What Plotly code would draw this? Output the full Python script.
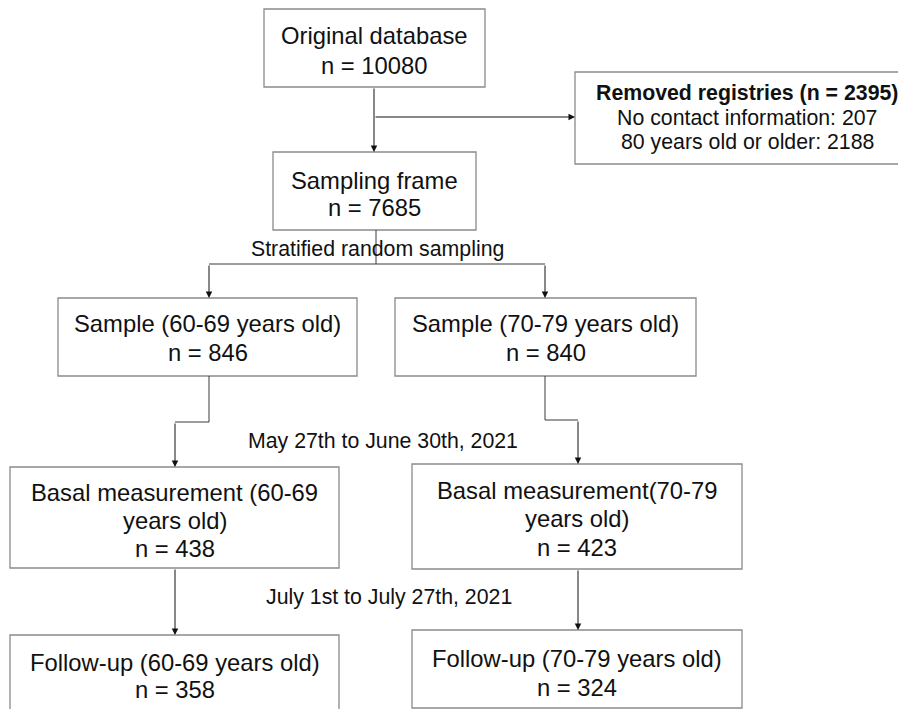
import plotly.graph_objects as go

# ---------------- data ----------------
node_titles = [
    ["Original database"],
    ["Sampling frame"],
    ["Sample (60-69 years old)"],
    ["Sample (70-79 years old)"],
    ["Basal measurement (60-69", "years old)"],
    ["Basal measurement(70-79", "years old)"],
    ["Follow-up (60-69 years old)"],
    ["Follow-up (70-79 years old)"],
]
node_counts = [10080, 7685, 846, 840, 438, 423, 358, 324]

removed_title = "Removed registries"
removed_total = 2395
removed_reasons = ["No contact information", "80 years old or older"]
removed_counts = [207, 2188]

phase_labels = [
    "Stratified random sampling",
    "May 27th to June 30th, 2021",
    "July 1st to July 27th, 2021",
]

# ---------------- layout geometry (page pixels, y downward) ----------------
W, H = 906, 709
PAGE_MARGIN = 8  # default body margin of the html page
# x0, x1, y0, y1, first-line y, line spacing
node_boxes = [
    (264, 485, 9, 87, 35, 30),
    (273, 476, 152, 230, 180, 27),
    (58, 357, 298, 376, 323, 29),
    (395, 696, 298, 376, 323, 29),
    (10, 339, 467, 568, 492, 28),
    (412, 742, 464, 569, 490, 28.5),
    (10, 339, 635, 712, 662, 27),
    (412, 742, 630, 708, 658, 29),
]
removed_box = (575, 919, 72, 164, 93, 24.5)
phase_pos = [(377, 249), (383, 441), (389, 597)]

BOX_FONT = 23.8
REM_FONT = 21.3
LAB_FONT = 21.3
FONT_FAMILY = "Liberation Sans, Arial, sans-serif"
TEXT_COLOR = "#111111"
BORDER = "#8a8a8a"
CONN = "#3a3a3a"

fig = go.Figure()
shapes = []
annotations = []

def add_box(box, lines, size):
    x0, x1, y0, y1, ly, sp = box
    shapes.append(dict(type="rect", xref="x", yref="y", x0=x0, x1=x1, y0=y0, y1=y1,
                       line=dict(color=BORDER, width=1.3), fillcolor="white", layer="below"))
    cx = (x0 + x1) / 2
    for i, t in enumerate(lines):
        annotations.append(dict(x=cx, y=ly + i * sp, xref="x", yref="y", text=t,
                                showarrow=False, xanchor="center", yanchor="middle",
                                font=dict(family=FONT_FAMILY, size=size, color=TEXT_COLOR)))

for box, title, n in zip(node_boxes, node_titles, node_counts):
    add_box(box, title + [f"n = {n}"], BOX_FONT)

rem_lines = [f"<b>{removed_title} (n = {removed_total})</b>"] + \
            [f"{r}: {c}" for r, c in zip(removed_reasons, removed_counts)]
add_box(removed_box, rem_lines, REM_FONT)

for (x, y), t in zip(phase_pos, phase_labels):
    annotations.append(dict(x=x, y=y, xref="x", yref="y", text=t, showarrow=False,
                            xanchor="center", yanchor="middle",
                            font=dict(family=FONT_FAMILY, size=LAB_FONT, color=TEXT_COLOR)))

def path(points):
    d = "M " + " L ".join(f"{px},{py}" for px, py in points)
    shapes.append(dict(type="path", xref="x", yref="y", path=d,
                       line=dict(color=CONN, width=1)))

def arrow(tail, head):
    annotations.append(dict(x=head[0], y=head[1], ax=tail[0], ay=tail[1],
                            xref="x", yref="y", axref="x", ayref="y", text="",
                            showarrow=True, arrowhead=2, arrowsize=1.3, arrowwidth=1,
                            arrowcolor="#111111", standoff=0))

B = node_boxes
# original -> sampling frame, and exclusion branch
ox = 374
arrow((ox, B[0][3]), (ox, B[1][2]))
arrow((ox, 117), (removed_box[0], 117))
# sampling frame -> two samples
sx = 376
path([(sx, B[1][3]), (sx, 264)])
path([(209, 264), (545, 264)])
arrow((209, 264), (209, B[2][2]))
arrow((545, 264), (545, B[3][2]))
# samples -> basal
path([(209, B[2][3]), (209, 422), (175, 422)])
arrow((175, 422), (175, B[4][2]))
path([(545, B[3][3]), (545, 420), (578, 420)])
arrow((578, 420), (578, B[5][2]))
# basal -> follow-up
arrow((175, B[4][3]), (175, B[6][2]))
arrow((578, B[5][3]), (578, B[7][2]))

fig.update_layout(
    width=W - PAGE_MARGIN, height=H - PAGE_MARGIN, margin=dict(l=0, r=0, t=0, b=0),
    paper_bgcolor="white", plot_bgcolor="white",
    xaxis=dict(range=[PAGE_MARGIN, W], visible=False, fixedrange=True),
    yaxis=dict(range=[H, PAGE_MARGIN], visible=False, fixedrange=True),
    shapes=shapes, annotations=annotations, showlegend=False,
)
fig.write_html("out.html", config={"displayModeBar": False})
